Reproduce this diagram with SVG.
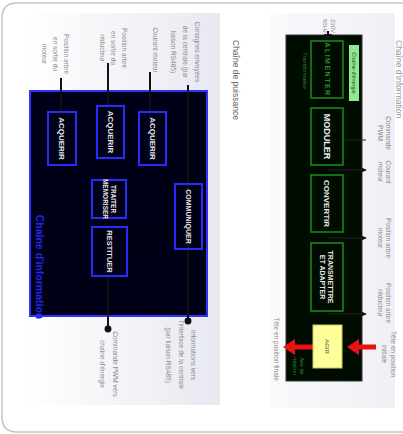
<svg xmlns="http://www.w3.org/2000/svg" width="403" height="434" viewBox="0 0 403 434">
<defs>
<linearGradient id="gl" x1="1" y1="0" x2="0" y2="0"><stop offset="0" stop-color="#e8e8f1"/><stop offset="1" stop-color="#ffffff"/></linearGradient>
<linearGradient id="gr" x1="1" y1="0" x2="0" y2="0"><stop offset="0" stop-color="#efeff5"/><stop offset="1" stop-color="#fafafd"/></linearGradient>
<marker id="dot" viewBox="0 0 6 6" refX="3" refY="3" markerWidth="4" markerHeight="4" orient="auto"><circle cx="3" cy="3" r="2.6" fill="#111"/></marker>
<marker id="ah" viewBox="0 0 8 8" refX="7" refY="4" markerWidth="4" markerHeight="4" orient="auto"><path d="M0,0 L8,4 L0,8 z" fill="#111"/></marker>
</defs>
<style>
text{font-family:"Liberation Sans",Arial,sans-serif}
.lab{font-size:6.5px;fill:#8a8a8a;text-anchor:middle}
.bi{fill:none;stroke:#2a2aff;stroke-width:2}
.ti{font-size:8px;font-weight:bold;fill:#e6e6e6;text-anchor:middle}
.bp{fill:none;stroke:#1e8c1e;stroke-width:1.5}
.tp{font-size:9px;font-weight:bold;fill:#e8e8e8;text-anchor:middle}
.ln{stroke:#111;stroke-width:2;fill:none}
.lnd{stroke:#050505;stroke-width:1.5;fill:none}
</style>
<rect x="0" y="0" width="403" height="434" fill="#ffffff"/>
<path d="M420,3 L17,3 Q2,3 2,18 L2,417 Q2,432 17,432 L420,432" fill="none" stroke="#c4c4c4" stroke-width="1.5"/>

<g id="panel-info">
<rect x="25" y="13" width="195" height="392" fill="url(#gl)"/>
<text transform="translate(233,40) rotate(90)" style="font-size:8.5px;fill:#666">Chaîne de puissance</text>
<rect x="30" y="91" width="177" height="225" fill="#000016" stroke="#3030ff" stroke-width="2"/>
<text transform="translate(36,267) rotate(90)" style="font-size:10.5px;font-weight:bold;fill:#2424f0;text-anchor:middle">Chaîne d'information</text>
</g>

<g id="panel-power">
<rect x="270" y="13" width="125" height="395" fill="url(#gr)"/>
<text transform="translate(396,40) rotate(90)" style="font-size:8.5px;fill:#999">Chaîne d'information</text>
<rect x="286" y="35" width="76" height="346" fill="#000c00" stroke="#333" stroke-width="1"/>
<rect x="349" y="45" width="10" height="56" fill="#90e890"/>
<text transform="translate(352,73) rotate(90)" style="font-size:5.5px;fill:#1a4a1a;text-anchor:middle">Chaîne d'énergie</text>
<text transform="translate(303,71) rotate(90)" style="font-size:5.5px;fill:#2a8a2a;text-anchor:middle">Transformateur</text>
<text transform="translate(300,366) rotate(90)" style="font-size:5.5px;fill:#2a8a2a;text-anchor:middle">Axe de</text>
<text transform="translate(293,366) rotate(90)" style="font-size:5.5px;fill:#2a8a2a;text-anchor:middle">rotation</text>
</g>

<g id="connectors">
<line class="ln" x1="61" y1="78" x2="61" y2="112"/>
<line class="ln" x1="108" y1="63" x2="108" y2="106"/>
<line class="ln" x1="150" y1="72" x2="150" y2="112"/>
<line class="ln" x1="188" y1="85" x2="188" y2="321" marker-end="url(#dot)"/>
<line class="ln" x1="108" y1="276" x2="108" y2="329" marker-end="url(#dot)"/>
<line class="lnd" x1="127" y1="240" x2="175" y2="240"/>
<line class="lnd" x1="108" y1="158" x2="108" y2="180"/>
<line class="lnd" x1="108" y1="218" x2="108" y2="227"/>
<line class="ln" x1="328" y1="31" x2="328" y2="41" stroke-width="1.2" marker-end="url(#ah)"/>
<line class="lnd" x1="327" y1="98" x2="327" y2="108"/>
<line class="lnd" x1="327" y1="165" x2="327" y2="175"/>
<line class="lnd" x1="327" y1="232" x2="327" y2="243"/>
<line class="lnd" x1="327" y1="311" x2="327" y2="325"/>
<line x1="366" y1="140" x2="343" y2="140" stroke="#222" stroke-width="1"/>
<line x1="327" y1="170" x2="366" y2="170" stroke="#222" stroke-width="1.2" marker-end="url(#ah)"/>
<line x1="327" y1="238" x2="366" y2="238" stroke="#222" stroke-width="1.2" marker-end="url(#ah)"/>
<line x1="327" y1="314" x2="366" y2="314" stroke="#222" stroke-width="1.2" marker-end="url(#ah)"/>
<path d="M376,344.5 L359,344.5 L359,339 L347,347 L359,355 L359,349.5 L376,349.5 z" fill="#ee1111"/>
<path d="M313,344.5 L295,344.5 L295,339 L283,347 L295,355 L295,349.5 L313,349.5 z" fill="#ee1111"/>
</g>

<g id="labels-info">
<text class="lab" transform="translate(195,52) rotate(90)">Consignes envoyées</text>
<text class="lab" transform="translate(183,52) rotate(90)">de la centrale (par</text>
<text class="lab" transform="translate(171,52) rotate(90)">liaison RS485)</text>
<text class="lab" transform="translate(153,50) rotate(90)">Courant moteur</text>
<text class="lab" transform="translate(122,48) rotate(90)">Position arbre</text>
<text class="lab" transform="translate(111,48) rotate(90)">en sortie du</text>
<text class="lab" transform="translate(100,48) rotate(90)">réducteur</text>
<text class="lab" transform="translate(64,54) rotate(90)">Position arbre</text>
<text class="lab" transform="translate(53,54) rotate(90)">en sortie du</text>
<text class="lab" transform="translate(42,54) rotate(90)">moteur</text>
<text class="lab" transform="translate(191,355) rotate(90)">Informations vers</text>
<text class="lab" transform="translate(179,355) rotate(90)">l'interface de la centrale</text>
<text class="lab" transform="translate(166,355) rotate(90)">(par liaison RS485)</text>
<text class="lab" transform="translate(113,364) rotate(90)">Commande PWM vers</text>
<text class="lab" transform="translate(100,364) rotate(90)">chaîne d'énergie</text>
</g>

<g id="labels-power">
<text class="lab" transform="translate(331,26) rotate(90)" style="font-size:6px">230V</text>
<text class="lab" transform="translate(323,26) rotate(90)" style="font-size:6px">50Hz</text>
<text class="lab" transform="translate(386,133) rotate(90)">Commande</text>
<text class="lab" transform="translate(378,133) rotate(90)">PWM</text>
<text class="lab" transform="translate(386,172) rotate(90)">Courant</text>
<text class="lab" transform="translate(378,172) rotate(90)">moteur</text>
<text class="lab" transform="translate(386,238) rotate(90)">Position arbre</text>
<text class="lab" transform="translate(378,238) rotate(90)">moteur</text>
<text class="lab" transform="translate(386,303) rotate(90)">Position arbre</text>
<text class="lab" transform="translate(378,303) rotate(90)">réducteur</text>
<text class="lab" transform="translate(391,354) rotate(90)">Tête en position</text>
<text class="lab" transform="translate(382,354) rotate(90)">initiale</text>
<text class="lab" transform="translate(274,349) rotate(90)">Tête en position finale</text>
</g>

<g id="acquerir-1"><rect class="bi" x="48" y="112" width="28" height="53"/><text class="ti" transform="translate(59,138.5) rotate(90)">ACQUERIR</text></g>
<g id="acquerir-2"><rect class="bi" x="97" y="106" width="27" height="52"/><text class="ti" transform="translate(107.5,132) rotate(90)">ACQUERIR</text></g>
<g id="acquerir-3"><rect class="bi" x="139" y="112" width="27" height="53"/><text class="ti" transform="translate(149.5,138.5) rotate(90)">ACQUERIR</text></g>
<g id="traiter"><rect class="bi" x="92" y="180" width="34" height="38"/><text class="ti" transform="translate(111,199) rotate(90)" style="font-size:6.5px">TRAITER</text><text class="ti" transform="translate(103,199) rotate(90)" style="font-size:6.5px">MEMORISER</text></g>
<g id="restituer"><rect class="bi" x="92" y="227" width="35" height="49"/><text class="ti" transform="translate(106.5,251.5) rotate(90)" style="font-size:7.5px">RESTITUER</text></g>
<g id="communiquer"><rect class="bi" x="175" y="184" width="27" height="65"/><text class="ti" transform="translate(186,216.5) rotate(90)" style="font-size:7px">COMMUNIQUER</text></g>

<g id="alimenter"><rect class="bp" x="311" y="41" width="32" height="57"/><text transform="translate(324.5,69.5) rotate(90)" style="font-size:7px;font-weight:bold;fill:#2f8f2f;text-anchor:middle;letter-spacing:1.5px">ALIMENTER</text></g>
<g id="moduler"><rect class="bp" x="311" y="108" width="32" height="57"/><text class="tp" transform="translate(324,136.5) rotate(90)">MODULER</text></g>
<g id="convertir"><rect class="bp" x="311" y="175" width="32" height="57"/><text class="tp" transform="translate(324,203.5) rotate(90)" style="font-size:8px">CONVERTIR</text></g>
<g id="transmettre"><rect class="bp" x="311" y="243" width="32" height="68"/><text class="tp" transform="translate(328,277) rotate(90)" style="font-size:7px">TRANSMETTRE</text><text class="tp" transform="translate(320,277) rotate(90)" style="font-size:7px">ET ADAPTER</text></g>
<g id="agir"><rect x="313" y="325" width="29" height="43" fill="#ffff99" stroke="#c8c860" stroke-width="1"/><text transform="translate(325,346.5) rotate(90)" style="font-size:6px;fill:#555;text-anchor:middle">AGIR</text></g>
</svg>
